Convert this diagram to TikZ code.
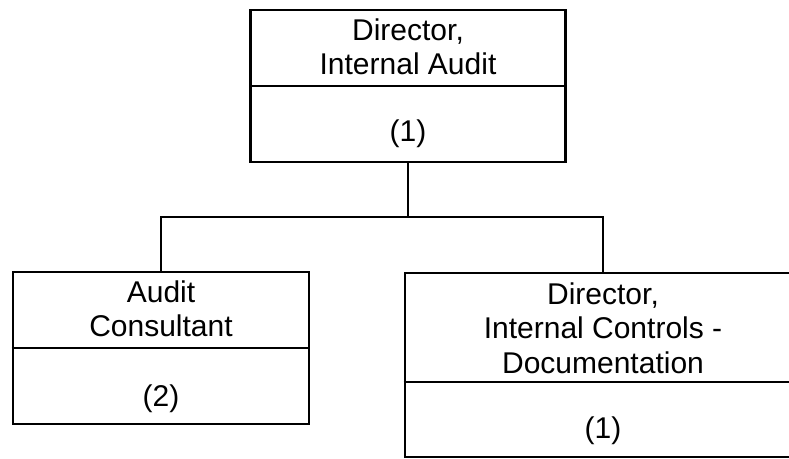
\documentclass[tikz,border=0pt]{standalone}
\usepackage{fontspec}
\setmainfont{Liberation Sans}
\begin{document}
\begin{tikzpicture}[x=1pt,y=-1pt,
  box/.style={draw=black,line width=2.6pt,rectangle,inner sep=0pt},
  divider/.style={draw=black,line width=1.8pt},
  conn/.style={draw=black,line width=2pt},
  lbl/.style={align=center,inner sep=0pt,font=\fontsize{30}{34.5}\selectfont}]
\useasboundingbox (0,0) rectangle (789,458);
\clip (0,0) rectangle (789,458);
% boxes
\node[box,minimum width=315pt,minimum height=152pt] (top) at (408,86) {};
\node[box,minimum width=296pt,minimum height=152pt] (left) at (161,348) {};
\node[box,minimum width=396pt,minimum height=184pt] (right) at (603,365) {};
% dividers
\draw[divider] (top.west |- 0,86) -- (top.east |- 0,86);
\draw[divider] (left.west |- 0,348) -- (left.east |- 0,348);
\draw[divider] (right.west |- 0,382) -- (right.east |- 0,382);
% labels
\node[lbl] (toptitle) at (408,47) {Director,\\Internal Audit};
\node[lbl] (topnum) at (408,134) {(1)};
\node[lbl] (lefttitle) at (161,309) {Audit\\Consultant};
\node[lbl] (leftnum) at (161,399) {(2)};
\node[lbl] (righttitle) at (603,328) {Director,\\Internal Controls -\\Documentation};
\node[lbl] (rightnum) at (603,431) {(1)};
% connectors
\coordinate (j) at (408,217);
\draw[conn] (top.south) -- (j);
\draw[conn] (left.north) |- (j) -| (right.north);
\end{tikzpicture}
\end{document}
